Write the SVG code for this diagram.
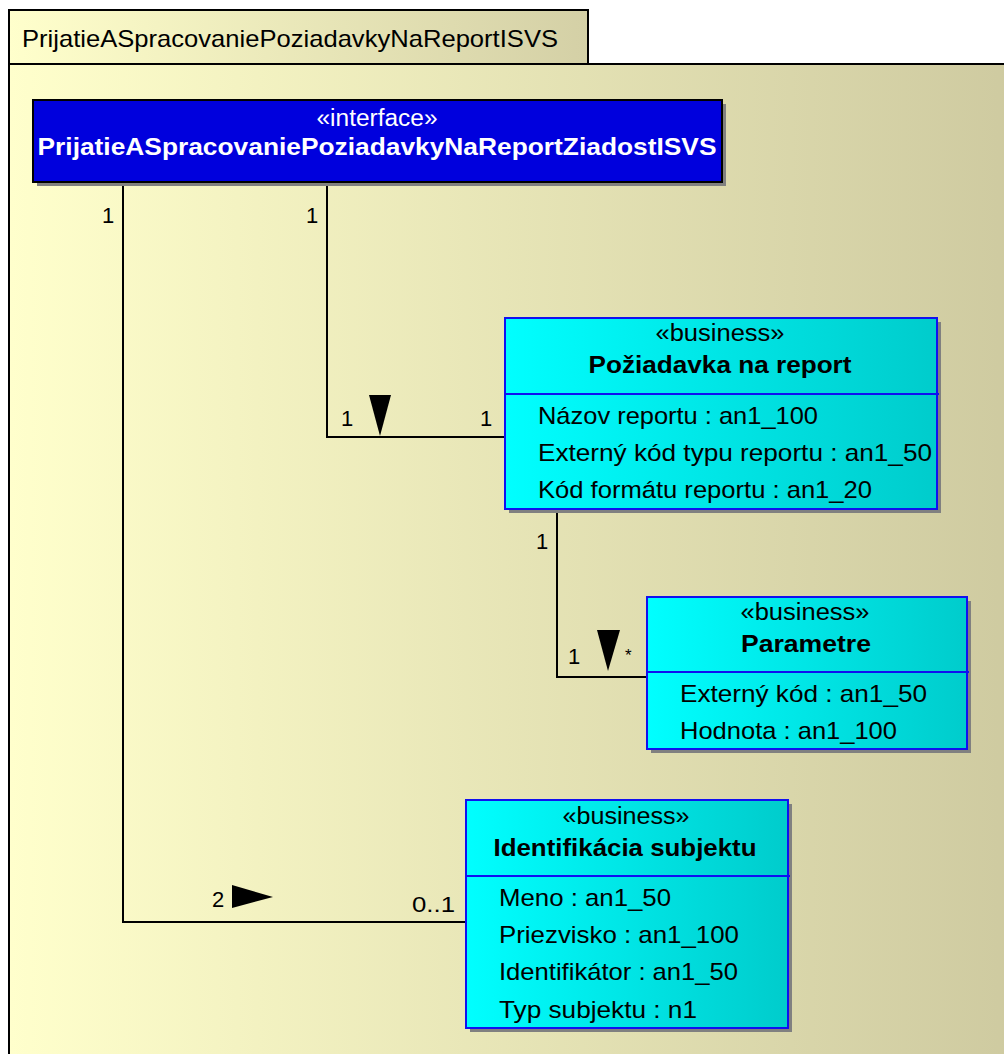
<svg xmlns="http://www.w3.org/2000/svg" width="1004" height="1054" viewBox="0 0 1004 1054">
<defs>
<linearGradient id="pkg" x1="0" y1="0" x2="1" y2="0">
<stop offset="0" stop-color="#FFFFCC"/>
<stop offset="1" stop-color="#CECAA0"/>
</linearGradient>
<linearGradient id="tab" x1="0" y1="0" x2="1" y2="0">
<stop offset="0" stop-color="#FFFFCC"/>
<stop offset="1" stop-color="#D4D0A6"/>
</linearGradient>
<linearGradient id="cls" x1="0" y1="0" x2="1" y2="0">
<stop offset="0" stop-color="#00FFFF"/>
<stop offset="1" stop-color="#00CCCC"/>
</linearGradient>
<style>
text{font-family:"Liberation Sans",Arial,sans-serif;}
.t{font-size:24px;fill:#000;}
.s{font-size:23px;fill:#000;text-anchor:middle;}
.n{font-size:24px;font-weight:bold;fill:#000;text-anchor:middle;}
.a{font-size:24px;fill:#000;}
.lbl{font-size:22px;fill:#000;}
.box{fill:url(#cls);stroke:#1010F0;stroke-width:2;}
.sh{fill:#808080;}
.div{stroke:#1010F0;stroke-width:2;}
.ln{fill:none;stroke:#000;stroke-width:2;}
.ah{fill:#000;}
</style>
</defs>
<g id="package">
<rect x="9" y="64" width="1010" height="1010" fill="url(#pkg)" stroke="#000" stroke-width="2"/>
<rect x="9" y="10" width="579" height="54" fill="url(#tab)" stroke="#000" stroke-width="2"/>
<text class="t" x="22" y="47" textLength="536" lengthAdjust="spacingAndGlyphs">PrijatieASpracovaniePoziadavkyNaReportISVS</text>
</g>
<g id="connectors">
<polyline class="ln" points="123,182 123,922 466,922"/>
<polyline class="ln" points="327,182 327,437 505,437"/>
<polyline class="ln" points="557,509 557,677 647,677"/>
<polygon class="ah" points="369,395 391,395 380,436"/>
<polygon class="ah" points="597,630 620,630 608,671"/>
<polygon class="ah" points="232,885 232,908 273,897"/>
<text class="lbl" x="102" y="223">1</text>
<text class="lbl" x="306" y="223">1</text>
<text class="lbl" x="341" y="426">1</text>
<text class="lbl" x="480" y="426">1</text>
<text class="lbl" x="536" y="549">1</text>
<text class="lbl" x="568" y="664">1</text>
<text class="lbl" x="625" y="661" style="font-size:17px">*</text>
<text class="lbl" x="212" y="907">2</text>
<text class="lbl" x="412" y="912" textLength="43" lengthAdjust="spacingAndGlyphs">0..1</text>
</g>
<g id="interface">
<rect class="sh" x="37" y="104" width="689" height="82"/>
<rect x="33" y="100" width="689" height="82" fill="#0000DD" stroke="#000" stroke-width="2"/>
<text x="377" y="126" style="font-size:23px;fill:#fff;text-anchor:middle" textLength="121" lengthAdjust="spacingAndGlyphs">«interface»</text>
<text x="377" y="155" style="font-size:24px;font-weight:bold;fill:#fff;text-anchor:middle" textLength="679" lengthAdjust="spacingAndGlyphs">PrijatieASpracovaniePoziadavkyNaReportZiadostISVS</text>
</g>
<g id="poziadavka">
<rect class="sh" x="509" y="322" width="432" height="191"/>
<rect class="box" x="505" y="318" width="432" height="191"/>
<line class="div" x1="505" y1="394" x2="939" y2="394"/>
<text class="s" x="720" y="341" textLength="129" lengthAdjust="spacingAndGlyphs">«business»</text>
<text class="n" x="720" y="373" textLength="263" lengthAdjust="spacingAndGlyphs">Požiadavka na report</text>
<text class="a" x="538" y="424" textLength="280" lengthAdjust="spacingAndGlyphs">Názov reportu : an1_100</text>
<text class="a" x="538" y="461" textLength="394" lengthAdjust="spacingAndGlyphs">Externý kód typu reportu : an1_50</text>
<text class="a" x="538" y="498" textLength="334" lengthAdjust="spacingAndGlyphs">Kód formátu reportu : an1_20</text>
</g>
<g id="parametre">
<rect class="sh" x="651" y="601" width="320" height="152"/>
<rect class="box" x="647" y="597" width="320" height="152"/>
<line class="div" x1="647" y1="672" x2="969" y2="672"/>
<text class="s" x="805" y="620" textLength="129" lengthAdjust="spacingAndGlyphs">«business»</text>
<text class="n" x="806" y="652" textLength="130" lengthAdjust="spacingAndGlyphs">Parametre</text>
<text class="a" x="680" y="702" textLength="247" lengthAdjust="spacingAndGlyphs">Externý kód : an1_50</text>
<text class="a" x="680" y="739" textLength="217" lengthAdjust="spacingAndGlyphs">Hodnota : an1_100</text>
</g>
<g id="identifikacia">
<rect class="sh" x="470" y="804" width="322" height="228"/>
<rect class="box" x="466" y="800" width="322" height="228"/>
<line class="div" x1="466" y1="876" x2="790" y2="876"/>
<text class="s" x="626" y="824" textLength="127" lengthAdjust="spacingAndGlyphs">«business»</text>
<text class="n" x="625" y="856" textLength="263" lengthAdjust="spacingAndGlyphs">Identifikácia subjektu</text>
<text class="a" x="499" y="906" textLength="172" lengthAdjust="spacingAndGlyphs">Meno : an1_50</text>
<text class="a" x="499" y="943" textLength="240" lengthAdjust="spacingAndGlyphs">Priezvisko : an1_100</text>
<text class="a" x="499" y="980" textLength="239" lengthAdjust="spacingAndGlyphs">Identifikátor : an1_50</text>
<text class="a" x="499" y="1018" textLength="198" lengthAdjust="spacingAndGlyphs">Typ subjektu : n1</text>
</g>
</svg>
